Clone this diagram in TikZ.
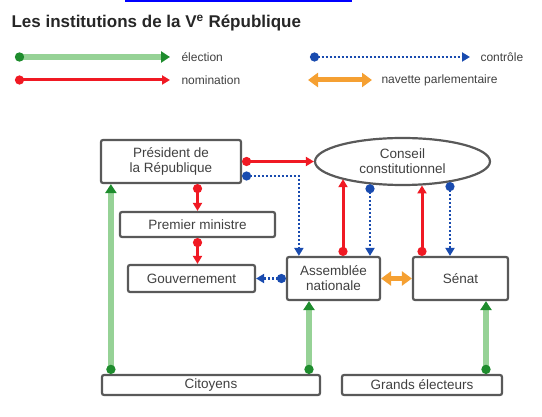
\documentclass[tikz,border=0pt]{standalone}
\usepackage{fontspec}
\setmainfont{Liberation Sans}
\usepackage{xcolor}
\usetikzlibrary{shapes.geometric, arrows.meta, positioning}

\definecolor{elecfill}{RGB}{150,210,150}
\definecolor{elecdark}{RGB}{30,140,45}
\definecolor{nomred}{RGB}{240,25,35}
\definecolor{ctrlblue}{RGB}{25,75,175}
\definecolor{navorange}{RGB}{245,160,50}

\begin{document}
\begin{tikzpicture}[x=1pt, y=-1pt]
    \tikzstyle{box} = [rectangle, rounded corners=2pt, draw=black!65, line width=2.2pt, text=black!75, font=\fontsize{13.5}{15}\selectfont, align=center, inner sep=2pt]
    \tikzstyle{legendtext} = [anchor=west, text=black!75, font=\fontsize{12}{14}\selectfont]
    \tikzstyle{election} = [line width=6pt, draw=elecfill, {Circle[length=9pt,color=elecdark]}-{Triangle[length=9pt,width=11pt,color=elecdark]}]
    \tikzstyle{nomination} = [line width=3pt, draw=nomred, {Circle[length=9pt]}-{Triangle[length=8pt,width=9pt]}]
    \tikzstyle{controle} = [line width=2.6pt, draw=ctrlblue, dash pattern=on 2pt off 2pt, {Circle[length=9pt]}-{Triangle[length=8pt,width=9pt]}]
    \tikzstyle{navette} = [line width=5pt, draw=navorange, {Triangle[length=10pt,width=14pt]}-{Triangle[length=10pt,width=14pt]}]

    \useasboundingbox (0,0) rectangle (542,417);
    \fill[blue] (125,0) rectangle (352,2.5);

    % titre et legende
    \node[anchor=west, font=\fontsize{17}{20}\selectfont\bfseries, text=black!85] (titre) at (8,23) {Les institutions de la V\textsuperscript{e} République};

    \coordinate (ea) at (15,57);
    \coordinate (eb) at (170,57);
    \coordinate (na) at (15,80);
    \coordinate (nb) at (170,80);
    \coordinate (ca) at (310,57);
    \coordinate (cb) at (470,57);
    \coordinate (va) at (308,80);
    \coordinate (vb) at (372,80);
    \draw[election] (ea) -- (eb);
    \draw[nomination] (na) -- (nb);
    \draw[controle] (ca) -- (cb);
    \draw[navette] (va) -- (vb);
    \node[legendtext] (lelec) at (178,57) {élection};
    \node[legendtext] (lnom) at (178,80) {nomination};
    \node[legendtext] (lctrl) at (477,57) {contrôle};
    \node[legendtext] (lnav) at (378,80) {navette parlementaire};

    % institutions
    \node[box, minimum width=140, minimum height=43] (pres) at (171,161.5) {Président de\\la République};
    \node[box, minimum width=155, minimum height=25] (pm) at (197.5,224.5) {Premier ministre};
    \node[box, minimum width=127, minimum height=27] (gouv) at (191.5,278.5) {Gouvernement};
    \node[box, minimum width=93, minimum height=43] (an) at (333.5,278.5) {Assemblée\\nationale};
    \node[box, minimum width=95, minimum height=43] (senat) at (460.5,278.5) {Sénat};
    \node[ellipse, draw=black!65, line width=2.2pt, text=black!75, font=\fontsize{13.5}{15}\selectfont, align=center, minimum width=175, minimum height=47, inner sep=0pt] (cc) at (402.5,161.5) {Conseil\\constitutionnel};
    \node[box, minimum width=218, minimum height=20] (cit) at (211,385) {Citoyens};
    \node[box, minimum width=160, minimum height=20] (ge) at (422,385) {Grands électeurs};

    % election
    \draw[election] ([xshift=10pt]cit.north west) -- ([xshift=10pt]cit.north west |- pres.south);
    \draw[election] ([xshift=-24.5pt]an.south |- cit.north) -- ([xshift=-24.5pt]an.south);
    \draw[election] ([xshift=25.5pt]senat.south |- ge.north) -- ([xshift=25.5pt]senat.south);

    % nomination
    \draw[nomination] (pres.east) -- (cc.west);
    \draw[nomination] (pm.north |- pres.south) -- (pm.north);
    \draw[nomination] (pm.south) -- (pm.south |- gouv.north);
    \draw[nomination] ([xshift=9.5pt]an.north) -- ([xshift=9.5pt]an.north |- cc.196);
    \draw[nomination] ([xshift=-38.5pt]senat.north) -- ([xshift=-38.5pt]senat.north |- cc.310);

    % controle
    \draw[controle] ([yshift=-14.5pt]pres.east) -| ([xshift=13pt]an.north west);
    \draw[controle] (an.west) -- (gouv.east);
    \draw[controle] ([xshift=36.5pt]an.north |- cc.214) -- ([xshift=36.5pt]an.north);
    \draw[controle] ([xshift=-10.5pt]senat.north |- cc.337) -- ([xshift=-10.5pt]senat.north);

    % navette
    \draw[navette] (an.east) -- (senat.west);
\end{tikzpicture}
\end{document}
